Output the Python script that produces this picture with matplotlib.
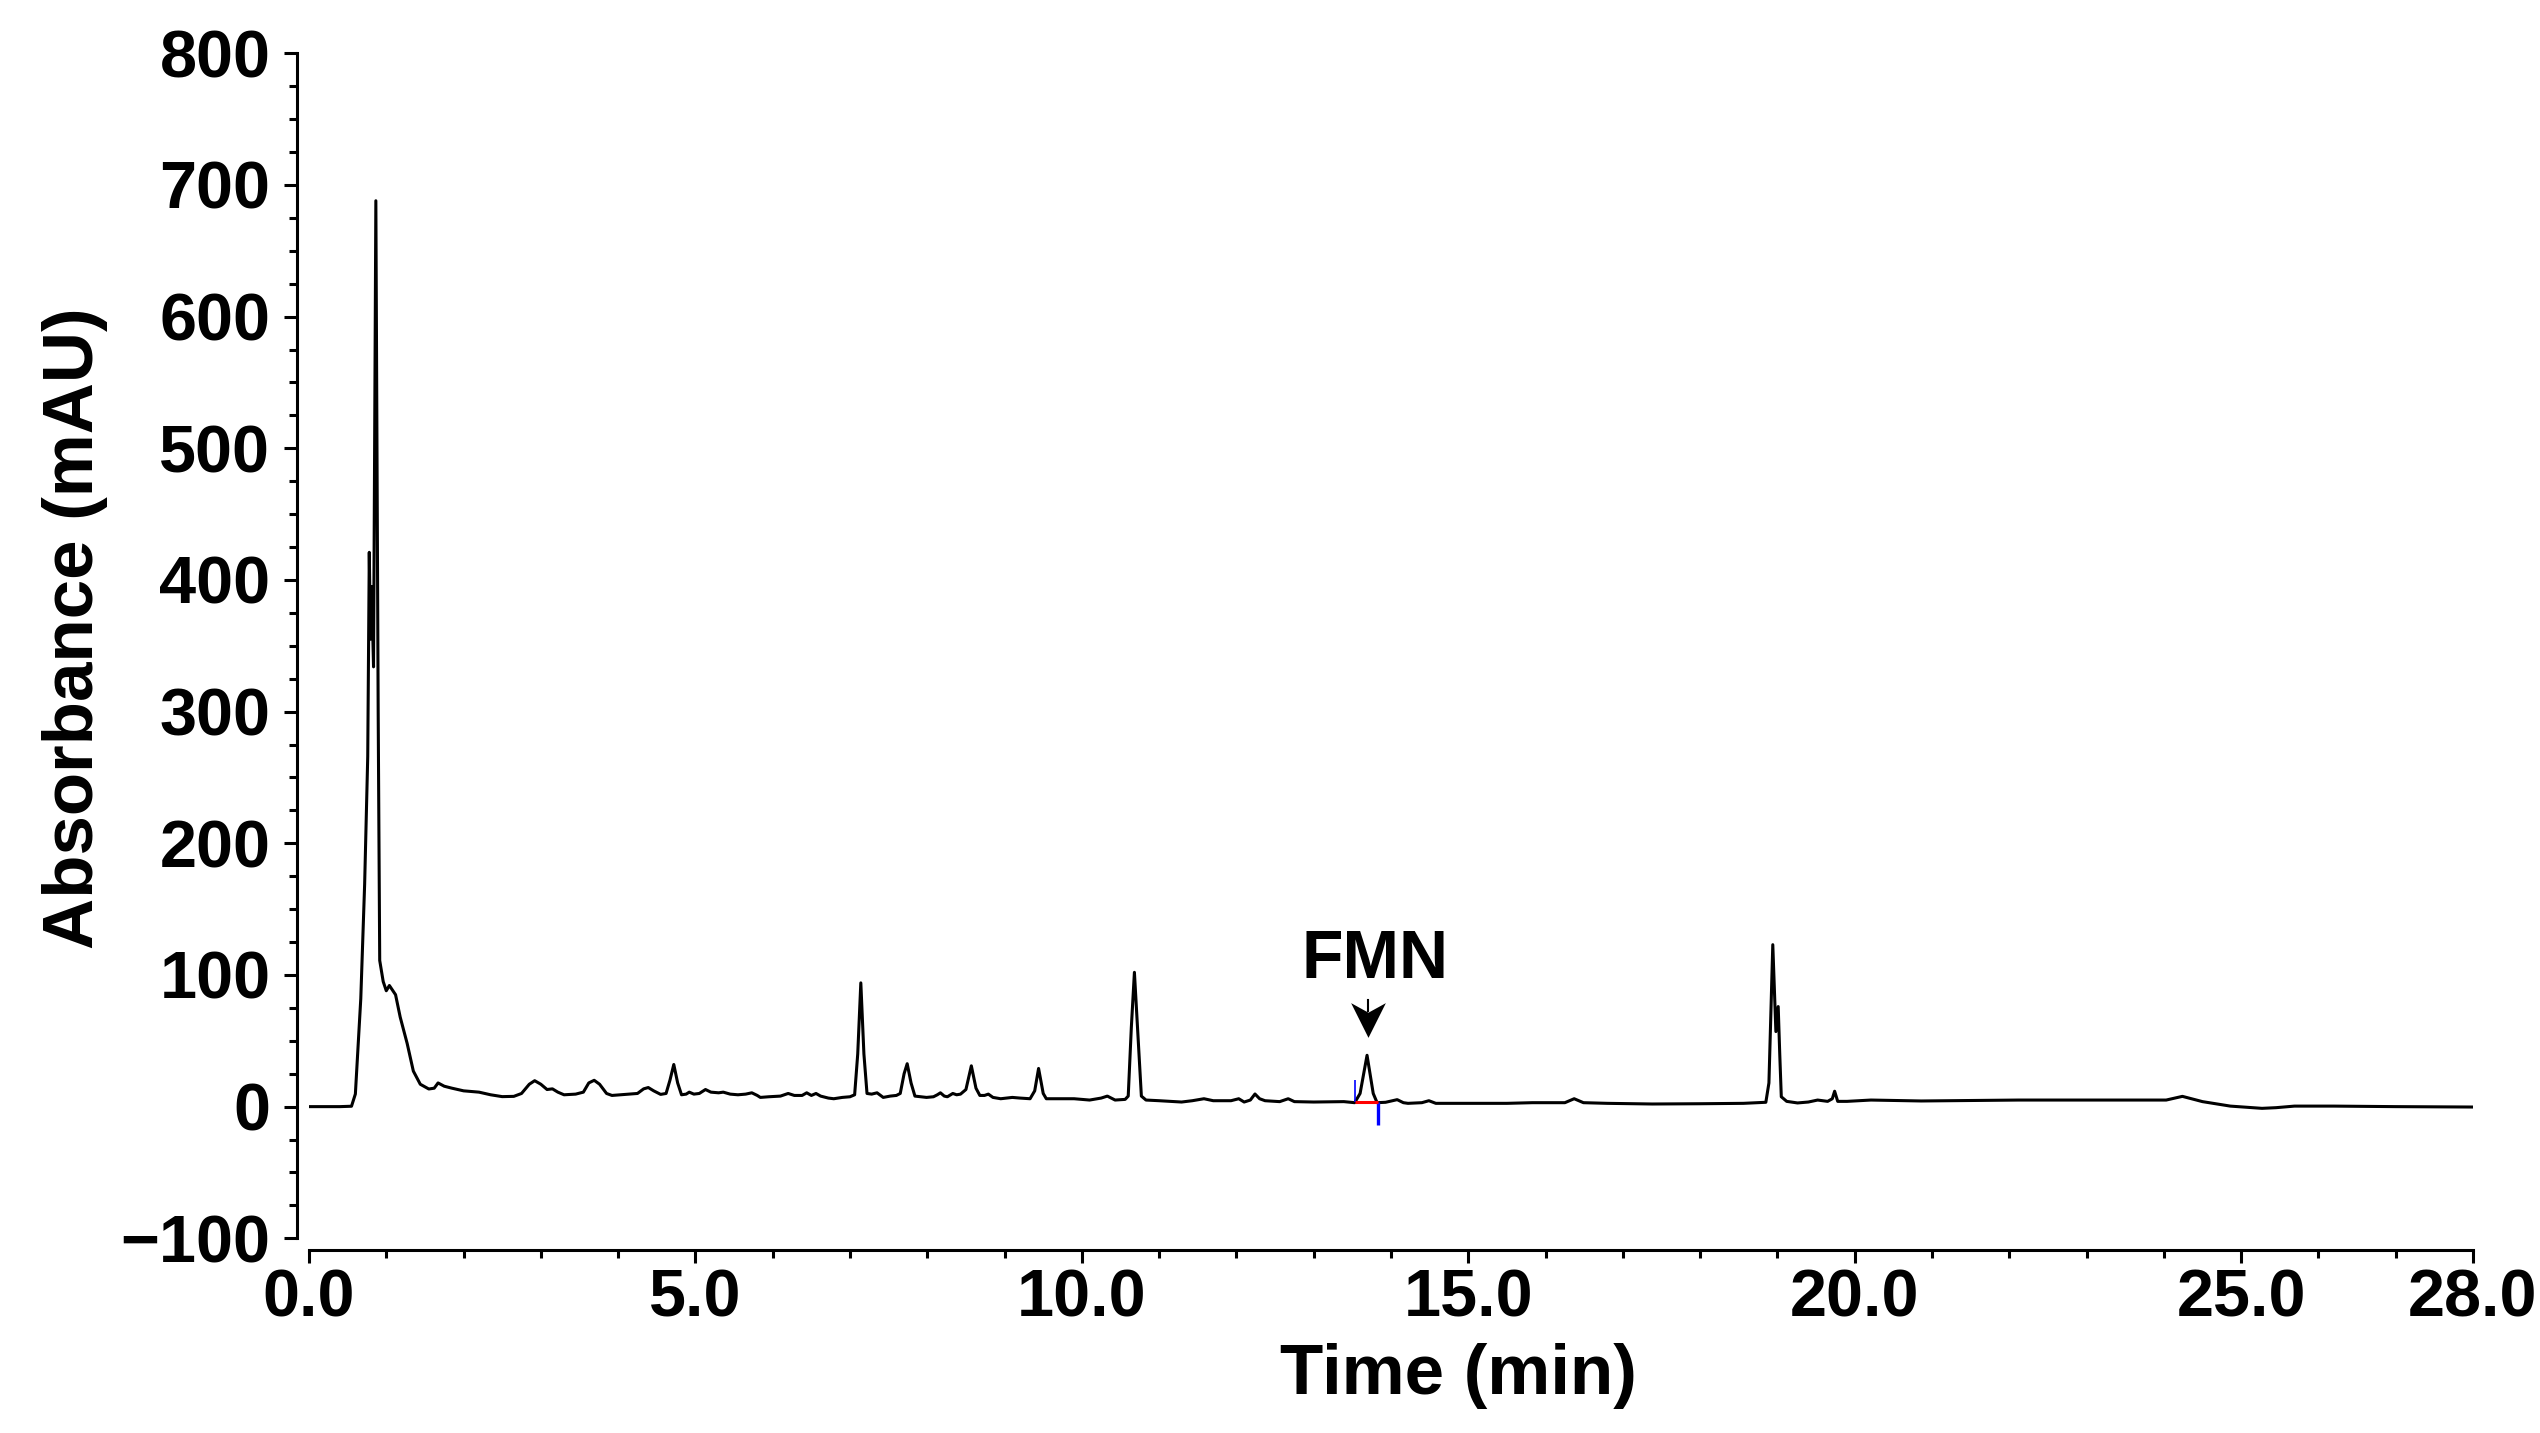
import numpy as np
import matplotlib
matplotlib.use('Agg')
import matplotlib.pyplot as plt
from matplotlib.path import Path
from matplotlib.ticker import MultipleLocator, FixedLocator, FormatStrFormatter

plt.rcParams['font.family'] = ['Liberation Sans', 'DejaVu Sans']
plt.rcParams['font.weight'] = 'bold'

# Chromatogram (time in min, absorbance in mAU)
time = [0.00, 0.40, 0.55, 0.60, 0.67, 0.72, 0.76, 0.78, 0.795, 0.81, 0.835, 0.865,
        0.895, 0.915, 0.96, 1.00, 1.04, 1.12, 1.18, 1.27, 1.35, 1.44, 1.55, 1.62,
        1.67, 1.75, 1.85, 2.00, 2.20, 2.35, 2.50, 2.65, 2.75, 2.85, 2.92, 3.00,
        3.08, 3.15, 3.22, 3.30, 3.45, 3.55, 3.62, 3.69, 3.76, 3.85, 3.92, 4.10,
        4.25, 4.33, 4.39, 4.46, 4.55, 4.62, 4.67, 4.72, 4.77, 4.82, 4.88, 4.92,
        4.98, 5.05, 5.13, 5.20, 5.30, 5.36, 5.45, 5.55, 5.65, 5.73, 5.80, 5.84,
        5.95, 6.10, 6.20, 6.28, 6.38, 6.44, 6.50, 6.56, 6.62, 6.72, 6.79, 6.90,
        7.00, 7.06, 7.10, 7.14, 7.18, 7.22, 7.28, 7.35, 7.43, 7.52, 7.60, 7.65,
        7.70, 7.74, 7.79, 7.84, 7.92, 7.99, 8.08, 8.13, 8.17, 8.22, 8.26, 8.33,
        8.38, 8.43, 8.50, 8.57, 8.63, 8.68, 8.74, 8.79, 8.85, 8.95, 9.10, 9.20,
        9.33, 9.39, 9.44, 9.50, 9.54, 9.70, 9.90, 10.00, 10.10, 10.25, 10.33, 10.43,
        10.56, 10.60, 10.64, 10.68, 10.72, 10.77, 10.83, 11.00, 11.29, 11.43, 11.58, 11.70,
        11.93, 12.03, 12.10, 12.18, 12.24, 12.30, 12.37, 12.56, 12.67, 12.75, 13.00, 13.39,
        13.53, 13.60, 13.69, 13.77, 13.82, 13.93, 14.08, 14.16, 14.22, 14.40, 14.49, 14.58,
        15.00, 15.50, 15.83, 16.25, 16.37, 16.49, 16.80, 17.38, 18.00, 18.56, 18.85, 18.89,
        18.94, 18.98, 19.01, 19.03, 19.05, 19.12, 19.26, 19.40, 19.52, 19.65, 19.71, 19.74,
        19.78, 19.90, 20.21, 20.86, 22.12, 24.03, 24.24, 24.50, 24.86, 25.27, 25.45, 25.69,
        26.20, 27.00, 28.00]
absorbance = [0.0, 0.0, 0.3, 9.6, 82, 169, 266, 421, 355, 395, 334, 688,
              300, 111, 95, 88, 92, 85, 68, 48, 27, 17, 13.4, 14,
              18, 15.5, 14, 12, 11, 9, 7.6, 7.8, 10, 17, 19.7, 17,
              13, 13.5, 11, 9, 9.5, 11, 18, 20, 17, 10, 8.5, 9.3,
              10, 13.5, 14.5, 12, 9.3, 10, 20, 32, 18, 9, 9.5, 11,
              9.5, 10, 13, 11, 10.5, 11, 9.5, 9, 9.5, 10.5, 8.5, 7,
              7.5, 8, 10, 8.5, 8.5, 10.5, 8.5, 10, 8, 6.5, 6, 7,
              7.5, 9, 40, 94, 40, 10, 9.5, 10.5, 7, 8, 8.5, 10,
              25, 32.6, 18, 8, 7.5, 7, 7.5, 9, 10.5, 8, 7.5, 10,
              9, 9.5, 13, 31, 14, 8.5, 8.5, 9.5, 7, 6, 7, 6.5,
              6, 12, 29, 10, 6, 6, 6, 5.5, 5, 6.5, 8, 5,
              5.5, 8, 60, 102, 60, 8, 5, 4.5, 3.5, 4.5, 6, 4.5,
              4.5, 6, 3.5, 5, 9.6, 6, 4.5, 3.8, 6, 3.8, 3.5, 3.8,
              3.0, 10, 39, 10, 3, 3.3, 5.3, 3, 2.5, 3, 4.5, 2.5,
              2.5, 2.5, 3, 3, 6, 3, 2.5, 2, 2.2, 2.5, 3.3, 18,
              123, 57, 76, 40, 7.5, 4, 2.8, 3.5, 5, 4, 6, 11.7,
              4, 4, 5, 4.3, 5, 5, 7.8, 3.8, 0.4, -1.3, -0.8, 0.4,
              0.4, 0, -0.3]

# FMN peak annotation and integration window
fmn_label = 'FMN'
fmn_peak_time = 13.70
fmn_peak_height = 39
fmn_window = [13.54, 13.83]
fmn_baseline = 3.3

x_major = [0, 5, 10, 15, 20, 25, 28]

fig = plt.figure(figsize=(25.4, 14.33), dpi=100)
ax = fig.add_axes([309 / 2540, 1 - 1238.3 / 1433, (2473 - 309) / 2540, (1238.3 - 53.3) / 1433])

ax.plot(time, absorbance, color='black', lw=2.2)

# integration marks
ax.vlines(fmn_window[0], fmn_baseline, fmn_baseline + 17, color='blue', lw=1.2)
ax.vlines(fmn_window[1], fmn_baseline - 17, fmn_baseline, color='blue', lw=2.4)
ax.hlines(fmn_baseline, fmn_window[0], fmn_window[1], color='red', lw=2.2)

# notched arrow head pointing down at the FMN peak
head = Path([(0, -1), (1, 1), (0, 0.45), (-1, 1), (0, -1)],
            [Path.MOVETO, Path.LINETO, Path.LINETO, Path.LINETO, Path.CLOSEPOLY])
ax.plot([fmn_peak_time, fmn_peak_time], [fmn_peak_height + 34, fmn_peak_height + 42],
        color='black', lw=1.5)
ax.plot([fmn_peak_time], [fmn_peak_height + 27], marker=head, markersize=25,
        color='black', markeredgewidth=0)
ax.text(fmn_peak_time + 0.09, fmn_peak_height + 59, fmn_label, ha='center', va='baseline',
        fontsize=49, fontweight='bold')

ax.set_xlim(0, 28)
ax.set_ylim(-100, 800)

for s in ['top', 'right']:
    ax.spines[s].set_visible(False)
for s in ['left', 'bottom']:
    ax.spines[s].set_position(('outward', 8.6))
    ax.spines[s].set_linewidth(2.2)

ax.xaxis.set_major_locator(FixedLocator(x_major))
ax.xaxis.set_minor_locator(MultipleLocator(1))
ax.xaxis.set_major_formatter(FormatStrFormatter('%.1f'))
ax.yaxis.set_major_locator(MultipleLocator(100))
ax.yaxis.set_minor_locator(MultipleLocator(25))

ax.tick_params(axis='both', which='major', width=2.2, length=9.2, labelsize=48)
ax.tick_params(axis='both', which='minor', width=2.2, length=5.7)
ax.tick_params(axis='y', which='major', pad=10)
ax.tick_params(axis='x', which='major', pad=4)

ax.set_xlabel('Time (min)', fontsize=51, fontweight='bold')
ax.set_ylabel('Absorbance (mAU)', fontsize=51, fontweight='bold')
ax.xaxis.set_label_coords(0.531, -0.088)
ax.yaxis.set_label_coords(-0.093, 0.515)

fig.savefig('out.png', dpi=100)
